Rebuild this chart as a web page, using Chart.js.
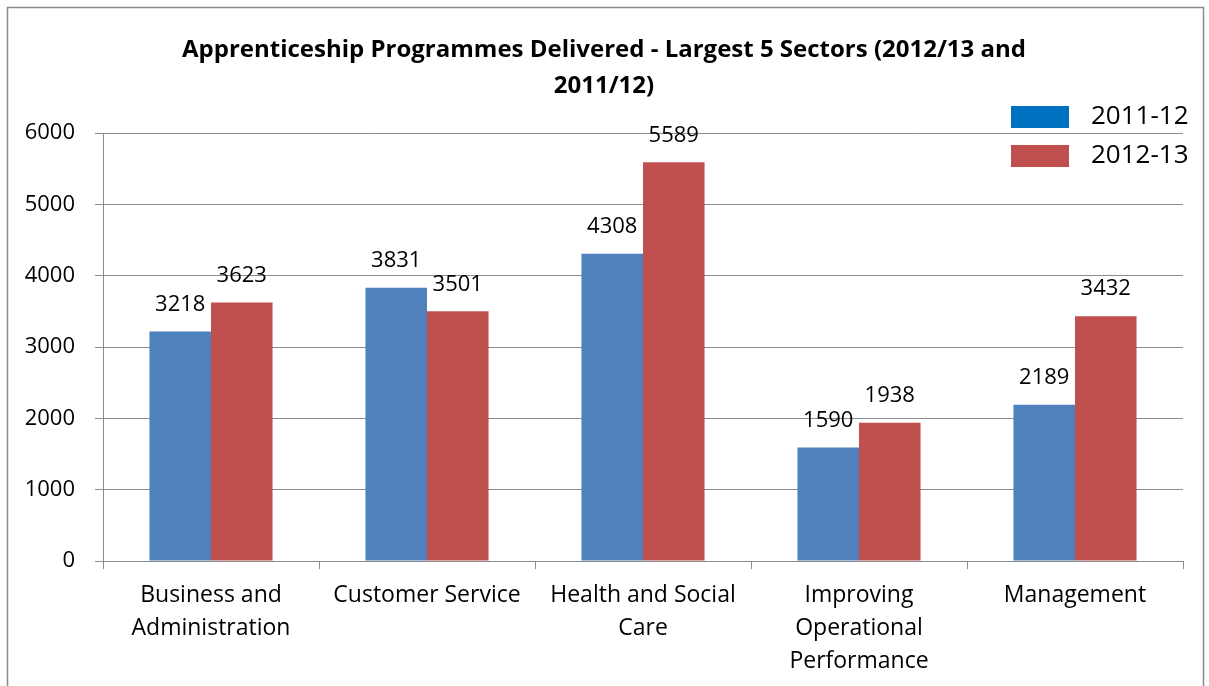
<!DOCTYPE html>
<html>
<head>
<meta charset="utf-8">
<script src="https://cdn.jsdelivr.net/npm/chart.js@4/dist/chart.umd.min.js"></script>
<style>
  html, body { margin: 0; padding: 0; background: #fff; }
  #wrap { width: 1209px; height: 686px; position: relative; }
</style>
</head>
<body>
<div id="wrap"><canvas id="c" width="1209" height="686"></canvas></div>
<script>
const categories = [
  ["Business and", "Administration"],
  "Customer Service",
  ["Health and Social", "Care"],
  ["Improving", "Operational", "Performance"],
  "Management"
];
const seriesNames = ["2011-12", "2012-13"];
const values2011 = [3218, 3831, 4308, 1590, 2189];
const values2012 = [3623, 3501, 5589, 1938, 3432];
const yTicks = [0, 1000, 2000, 3000, 4000, 5000, 6000];
const titleLines = ["Apprenticeship Programmes Delivered - Largest 5 Sectors (2012/13 and", "2011/12)"];

const FONT = "'Open Sans', 'DejaVu Sans', sans-serif";
const barColors = ["#4F81BD", "#C0504D"];
const legendSwatch = ["#0070C0", "#C0504D"];
const gridColor = "#8C8C8C";

const framePlugin = {
  id: 'frame',
  beforeDraw(chart) {
    const ctx = chart.ctx;
    ctx.save();
    ctx.fillStyle = '#fff';
    ctx.fillRect(0, 0, chart.width, chart.height);
    ctx.strokeStyle = '#8A8A8A';
    ctx.lineWidth = 1.5;
    ctx.strokeRect(7.5, 7.5, 1196, 720);
    ctx.restore();
  }
};

const labelPlugin = {
  id: 'valueLabels',
  afterDatasetsDraw(chart) {
    const ctx = chart.ctx;
    ctx.save();
    ctx.font = "22px " + FONT;
    ctx.fillStyle = '#000';
    ctx.textAlign = 'center';
    ctx.textBaseline = 'middle';
    chart.data.datasets.forEach((ds, di) => {
      const meta = chart.getDatasetMeta(di);
      meta.data.forEach((bar, i) => {
        ctx.fillText(String(ds.data[i]), bar.x, bar.y - 27);
      });
    });
    ctx.restore();
  }
};

const legendPlugin = {
  id: 'customLegend',
  afterDraw(chart) {
    const ctx = chart.ctx;
    ctx.save();
    ctx.font = "26px " + FONT;
    ctx.textAlign = 'left';
    ctx.textBaseline = 'middle';
    const rows = [117, 156];
    chart.data.datasets.forEach((ds, di) => {
      const y = rows[di];
      ctx.fillStyle = legendSwatch[di];
      ctx.fillRect(1011, y - 11, 58, 22);
      ctx.fillStyle = '#000';
      ctx.fillText(ds.label, 1091, y);
    });
    ctx.restore();
  }
};

new Chart(document.getElementById('c'), {
  type: 'bar',
  data: {
    labels: categories,
    datasets: [
      { label: seriesNames[0], data: values2011, backgroundColor: barColors[0] },
      { label: seriesNames[1], data: values2012, backgroundColor: barColors[1] }
    ]
  },
  options: {
    responsive: false,
    animation: false,
    devicePixelRatio: 1,
    layout: { padding: { top: 20, right: 26, left: 25, bottom: 0 } },
    datasets: { bar: { categoryPercentage: 0.57, barPercentage: 1.0 } },
    plugins: {
      legend: { display: false },
      tooltip: { enabled: false },
      title: {
        display: true,
        text: titleLines,
        color: '#000',
        font: { family: FONT, size: 24, weight: 'bold', lineHeight: 1.5 },
        padding: { top: 12, bottom: 29 }
      }
    },
    scales: {
      x: {
        offset: true,
        grid: { display: true, drawOnChartArea: false, drawTicks: true, tickLength: 8, offset: true, color: gridColor },
        border: { display: true, color: gridColor },
        ticks: { color: '#000', font: { family: FONT, size: 23, lineHeight: 1.435 }, padding: 10, maxRotation: 0, autoSkip: false },
        afterFit(scale) { scale.height = 125; }
      },
      y: {
        min: 0, max: 6000,
        afterBuildTicks(scale) { scale.ticks = yTicks.map(v => ({ value: v })); },
        grid: { color: gridColor, tickLength: 8, drawTicks: true },
        border: { display: true, color: gridColor },
        ticks: { color: '#000', font: { family: FONT, size: 22 }, padding: 20, callback: (v) => String(v) },
        afterFit(scale) { scale.width = 78; }
      }
    }
  },
  plugins: [framePlugin, labelPlugin, legendPlugin]
});
</script>
</body>
</html>
